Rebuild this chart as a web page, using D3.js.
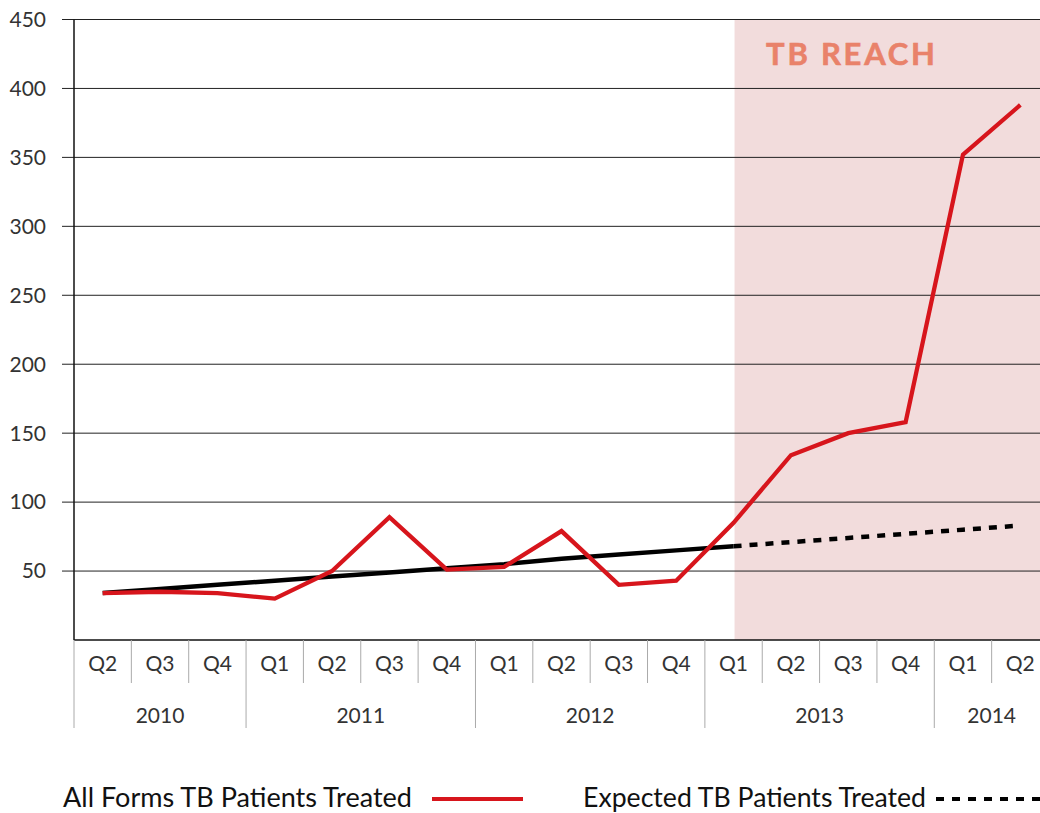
<!DOCTYPE html>
<html>
<head>
<meta charset="utf-8">
<script src="https://cdn.jsdelivr.net/npm/d3@7"></script>
<style>
  body { margin: 0; background: #fff; }
  svg { display: block; font-family: Lato, 'DejaVu Sans', sans-serif; }
  .tick_lbl { font-size: 21px; fill: #333; }
  .legend_lbl { font-size: 27px; fill: #111; }
</style>
</head>
<body>
<svg id="graph" width="1040" height="813"></svg>
<script>
/*************************************************/
// Data

var periods  = ['2010 Q2','2010 Q3','2010 Q4','2011 Q1','2011 Q2','2011 Q3','2011 Q4','2012 Q1','2012 Q2','2012 Q3','2012 Q4','2013 Q1','2013 Q2','2013 Q3','2013 Q4','2014 Q1','2014 Q2'];
var quarters = ['Q2','Q3','Q4','Q1','Q2','Q3','Q4','Q1','Q2','Q3','Q4','Q1','Q2','Q3','Q4','Q1','Q2'];
var years    = ['2010','2011','2012','2013','2014'];
var yearFirst = ['2010 Q2','2011 Q1','2012 Q1','2013 Q1','2014 Q1'];

var treated        = [34, 35, 34, 30, 50, 89, 51, 53, 79, 40, 43, 85, 134, 150, 158, 352, 388];
var expectedPast   = [34, 37, 40, 43, 46, 49, 52, 55, 59, 62, 65, 68];
var expectedFuture = [68, 71, 74, 77, 80, 83];   // 2013 Q1 .. 2014 Q2

var yTicks = [50, 100, 150, 200, 250, 300, 350, 400, 450];
var reachStart = '2013 Q1';

/*************************************************/

var svg = d3.select('#graph');
var plotL = 74, plotR = 1049, plotT = 19.5, plotB = 640;

var xScale = d3.scaleBand().domain(periods).range([plotL, plotR]);
var yScale = d3.scaleLinear().domain([0, 450]).range([plotB, plotT]);
var cx = function(p){ return xScale(p) + xScale.bandwidth()/2; };

// TB REACH shading
svg.append('rect')
  .attr('x', cx(reachStart) + 1).attr('y', plotT)
  .attr('width', 1040 - cx(reachStart)).attr('height', plotB - plotT)
  .style('fill', '#f2dcdc');

svg.append('text')
  .attr('x', 766).attr('y', 65)
  .attr('textLength', 169).attr('lengthAdjust', 'spacing')
  .style('font-size', '31px').style('font-weight', 'bold').style('fill', '#e9826a')
  .style('stroke', '#e9826a').style('stroke-width', 0.6)
  .text('TB REACH');

// gridlines + y labels
yTicks.forEach(function(t){
  svg.append('line')
    .attr('x1', 62).attr('x2', 1040).attr('y1', yScale(t)).attr('y2', yScale(t))
    .style('stroke', '#222').style('stroke-width', 1);
  svg.append('text').attr('class', 'tick_lbl')
    .attr('x', 46).attr('y', yScale(t)).attr('dy', '0.35em')
    .style('text-anchor', 'end').text(t);
});

// axes
svg.append('line').attr('x1', plotL).attr('x2', plotL).attr('y1', plotT).attr('y2', plotB)
  .style('stroke', '#111').style('stroke-width', 1.5);
svg.append('line').attr('x1', plotL).attr('x2', 1040).attr('y1', plotB).attr('y2', plotB)
  .style('stroke', '#111').style('stroke-width', 1.5);

// category separators and labels
periods.forEach(function(p, i){
  var isYear = yearFirst.indexOf(p) >= 0;
  svg.append('line')
    .attr('x1', xScale(p)).attr('x2', xScale(p))
    .attr('y1', plotB).attr('y2', isYear ? 728 : 683)
    .style('stroke', '#aaa').style('stroke-width', 1);
  svg.append('text').attr('class', 'tick_lbl')
    .attr('x', cx(p)).attr('y', 664).attr('dy', '0.35em')
    .style('text-anchor', 'middle').text(quarters[i]);
});

years.forEach(function(y, i){
  var first = periods.indexOf(yearFirst[i]);
  var last = i < years.length - 1 ? periods.indexOf(yearFirst[i+1]) - 1 : periods.length - 1;
  var mid = (xScale(periods[first]) + xScale(periods[last]) + xScale.bandwidth()) / 2;
  svg.append('text').attr('class', 'tick_lbl')
    .attr('x', mid).attr('y', 716).attr('dy', '0.35em')
    .style('text-anchor', 'middle').text(y);
});

// lines
var lineGen = d3.line().x(function(d){ return cx(d.p) }).y(function(d){ return yScale(d.v) });
var futureStart = periods.indexOf(reachStart);

svg.append('path')
  .attr('d', lineGen(expectedPast.map(function(v, i){ return { p: periods[i], v: v } })))
  .style('stroke', '#000').style('stroke-width', 4.5).style('fill', 'none');

svg.append('path')
  .attr('d', lineGen(expectedFuture.map(function(v, i){ return { p: periods[futureStart + i], v: v } })))
  .style('stroke', '#000').style('stroke-width', 4.5).style('stroke-dasharray', '8,8').style('fill', 'none');

svg.append('path')
  .attr('d', lineGen(treated.map(function(v, i){ return { p: periods[i], v: v } })))
  .style('stroke', '#d7151c').style('stroke-width', 4.3).style('fill', 'none');

// legend
svg.append('text').attr('class', 'legend_lbl').attr('x', 63).attr('y', 807)
  .attr('textLength', 349).attr('lengthAdjust', 'spacingAndGlyphs').text('All Forms TB Patients Treated');
svg.append('line').attr('x1', 432).attr('x2', 523).attr('y1', 799).attr('y2', 799)
  .style('stroke', '#d7151c').style('stroke-width', 4);

svg.append('text').attr('class', 'legend_lbl').attr('x', 583).attr('y', 807)
  .attr('textLength', 343).attr('lengthAdjust', 'spacingAndGlyphs').text('Expected TB Patients Treated');
svg.append('line').attr('x1', 936).attr('x2', 1040).attr('y1', 799).attr('y2', 799)
  .style('stroke', '#000').style('stroke-width', 4).style('stroke-dasharray', '8,8');
</script>
</body>
</html>
